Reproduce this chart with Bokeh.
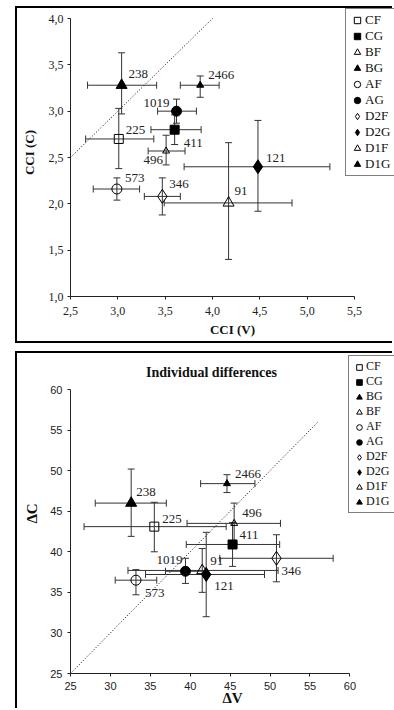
from bokeh.plotting import figure
from bokeh.models import (ColumnDataSource, Whisker, TeeHead, Range1d, FixedTicker,
                          CustomJSTickFormatter, Legend, LegendItem, Label)
from bokeh.layouts import column
from bokeh.embed import file_html
from bokeh.resources import INLINE
from bokeh.core.properties import value

# ---------------- data: top panel (CCI) ----------------
groups_top = ["CF", "CG", "BF", "BG", "AF", "AG", "D2F", "D2G", "D1F", "D1G"]
n_top = ["225", "411", "91", "238", "573", "1019", "346", "121", "496", "2466"]
cci_v = [3.01, 3.60, 4.17, 3.04, 2.99, 3.62, 3.47, 4.48, 3.51, 3.87]
cci_v_lo = [2.66, 3.35, 3.49, 2.68, 2.74, 3.42, 3.28, 3.70, 3.32, 3.66]
cci_v_hi = [3.38, 3.88, 4.84, 3.41, 3.23, 3.83, 3.66, 5.24, 3.71, 4.07]
cci_c = [2.70, 2.80, 2.01, 3.28, 2.16, 3.00, 2.08, 2.40, 2.57, 3.28]
cci_c_lo = [2.38, 2.64, 1.40, 2.97, 2.04, 2.87, 1.88, 1.92, 2.42, 3.15]
cci_c_hi = [3.03, 2.96, 2.66, 3.63, 2.28, 3.13, 2.28, 2.90, 2.74, 3.38]
ticks_cci_x = [2.5, 3.0, 3.5, 4.0, 4.5, 5.0, 5.5]
ticks_cci_y = [1.0, 1.5, 2.0, 2.5, 3.0, 3.5, 4.0]
diag_top = [2.5, 4.0]

# ---------------- data: bottom panel (individual differences) ----------------
groups_bot = ["CF", "CG", "BG", "BF", "AF", "AG", "D2F", "D2G", "D1F", "D1G"]
n_bot = ["225", "411", "238", "91", "573", "1019", "346", "121", "496", "2466"]
dv = [35.5, 45.3, 32.6, 41.5, 33.2, 39.4, 50.8, 42.0, 45.5, 44.6]
dv_lo = [26.7, 39.5, 28.1, 32.2, 30.6, 36.9, 43.7, 34.4, 39.6, 41.3]
dv_hi = [44.5, 51.2, 37.0, 51.0, 35.8, 41.9, 57.9, 49.3, 51.3, 48.1]
dc = [43.1, 40.9, 46.0, 37.7, 36.5, 37.6, 39.2, 37.2, 43.5, 48.4]
dc_lo = [40.0, 38.2, 41.9, 35.0, 34.7, 36.1, 36.3, 32.0, 41.0, 47.3]
dc_hi = [46.1, 43.6, 50.2, 40.4, 37.8, 39.2, 42.1, 42.4, 46.0, 49.5]
ticks_d = [25, 30, 35, 40, 45, 50, 55, 60]
diag_bot = [25, 56]

# ---------------- styles ----------------
MARK = {  # marker, filled, size
    "CF": ("square", False, 9), "CG": ("square", True, 9),
    "BF": ("triangle", False, 11), "BG": ("triangle", True, 11),
    "AF": ("circle", False, 10), "AG": ("circle", True, 10),
    "D2F": ("diamond", False, 14), "D2G": ("diamond", True, 14),
    "D1F": ("triangle", False, 7), "D1G": ("triangle", True, 7),
}
LAB_TOP = {"CF": (7, -9, "left"), "CG": (9, 13, "left"), "BF": (6, -12, "left"),
           "BG": (7, -11, "left"), "AF": (8, -11, "left"), "AG": (-7, -8, "right"),
           "D2F": (7, -12, "left"), "D2G": (8, -9, "left"), "D1F": (-3, 9, "right"),
           "D1G": (8, -10, "left")}
LAB_BOT = {"CF": (8, -8, "left"), "CG": (7, -9, "left"), "BG": (5, -11, "left"),
           "BF": (8, -9, "left"), "AF": (9, 13, "left"), "AG": (-3, -11, "right"),
           "D2F": (5, 13, "left"), "D2G": (8, 11, "left"), "D1F": (8, -10, "left"),
           "D1G": (8, -10, "left")}

SERIF = "Liberation Serif"
SANS = "Liberation Sans"
ERR = "#333333"


def panel(groups, ns, x, xlo, xhi, y, ylo, yhi, diag, labs, xb, yb, xt, yt,
          width, height, frame_left, frame_bottom, axis_right_px, axis_top_px,
          tick_font, tick_size, xlabel, ylabel, lab_size, legend_loc, leg_font, leg_h):
    # frame spans from frame_left to the canvas right and from canvas top to frame_bottom;
    # axes are bounded to the data extent
    fw = width - frame_left
    fh = height - frame_bottom
    ax_w = axis_right_px - frame_left
    ax_h = fh - axis_top_px
    x_end = xb[0] + fw * (xb[1] - xb[0]) / ax_w
    y_end = yb[0] + fh * (yb[1] - yb[0]) / ax_h
    p = figure(width=width, height=height, output_backend="svg", toolbar_location=None,
               x_range=Range1d(xb[0], x_end), y_range=Range1d(yb[0], y_end),
               min_border_left=frame_left, min_border_right=0,
               min_border_top=0, min_border_bottom=frame_bottom)
    p.background_fill_color = "white"
    p.border_fill_color = "white"
    p.outline_line_color = None
    p.grid.visible = False
    p.xaxis.bounds = xb
    p.yaxis.bounds = yb

    for ax, ticks in ((p.xaxis[0], xt), (p.yaxis[0], yt)):
        ax.ticker = FixedTicker(ticks=ticks)
        ax.minor_tick_line_color = None
        ax.major_tick_in = 0
        ax.major_tick_out = 3
        ax.axis_line_color = "#222222"
        ax.major_tick_line_color = "#222222"
        ax.major_label_text_font = tick_font
        ax.major_label_text_font_size = tick_size
        ax.major_label_text_color = "#222222"
        ax.axis_label_text_font = SERIF
        ax.axis_label_text_font_style = "bold"
        ax.axis_label_text_font_size = lab_size
        ax.axis_label_text_color = "#111111"
    p.xaxis.axis_label = xlabel
    p.yaxis.axis_label = ylabel

    p.line(diag, diag, line_color="black", line_width=1, line_dash="1 2")

    src = ColumnDataSource(dict(x=x, xlo=xlo, xhi=xhi, y=y, ylo=ylo, yhi=yhi))
    vw = Whisker(base="x", upper="yhi", lower="ylo", source=src, dimension="height",
                 line_color=ERR, line_width=1,
                 upper_head=TeeHead(size=7, line_color=ERR, line_width=1),
                 lower_head=TeeHead(size=7, line_color=ERR, line_width=1))
    hw = Whisker(base="y", upper="xhi", lower="xlo", source=src, dimension="width",
                 line_color=ERR, line_width=1,
                 upper_head=TeeHead(size=7, line_color=ERR, line_width=1),
                 lower_head=TeeHead(size=7, line_color=ERR, line_width=1))
    p.add_layout(vw)
    p.add_layout(hw)

    items = []
    for i, g in enumerate(groups):
        m, filled, s = MARK[g]
        r = p.scatter([x[i]], [y[i]], marker=m, size=s, line_color="black",
                      line_width=1, fill_color="black" if filled else None)
        items.append(LegendItem(label=g, renderers=[r]))

    tsrc = ColumnDataSource(dict(
        x=x, y=y, t=ns,
        dx=[labs[g][0] for g in groups], dy=[labs[g][1] for g in groups],
        al=[labs[g][2] for g in groups]))
    p.text("x", "y", text="t", x_offset="dx", y_offset="dy", text_align="al",
           text_baseline="middle", text_font=value(SERIF), text_font_size="13px",
           text_color="#222222", source=tsrc)

    leg = Legend(items=items, location=legend_loc, border_line_color="black",
                 border_line_width=1, background_fill_color="white",
                 background_fill_alpha=1.0, label_text_font=SERIF,
                 label_text_font_size=leg_font, label_text_color="#111111",
                 glyph_width=leg_h, glyph_height=leg_h, label_height=leg_h,
                 label_width=44, label_standoff=0, spacing=0, padding=3, margin=0)
    p.add_layout(leg)
    return p


p1 = panel(groups_top, n_top, cci_v, cci_v_lo, cci_v_hi, cci_c, cci_c_lo, cci_c_hi,
           diag_top, LAB_TOP, (2.5, 5.5), (1.0, 4.0), ticks_cci_x, ticks_cci_y,
           377, 333, 53, 45, 337, 10, SERIF, "12px", "CCI (V)", "CCI (C)", "13px",
           (275, 120), "13px", 16)
p1.xaxis.formatter = CustomJSTickFormatter(code="return tick.toFixed(1).replace('.', ',');")
p1.yaxis.formatter = CustomJSTickFormatter(code="return tick.toFixed(1).replace('.', ',');")
p1.xaxis.major_label_standoff = 7
p1.xaxis.axis_label_standoff = 4
p1.yaxis.major_label_standoff = 4
p1.yaxis.axis_label_standoff = 9
p1.margin = (8, 0, 0, 17)
p1.styles = {"box-shadow": "-2px -2px 0 0 #000, -2px 2px 0 0 #000"}

p2 = panel(groups_bot, n_bot, dv, dv_lo, dv_hi, dc, dc_lo, dc_hi,
           diag_bot, LAB_BOT, (25, 60), (25, 60), ticks_d, ticks_d,
           377, 357, 50, 37, 332, 36, SANS, "11px", "ΔV", "ΔC", "15px",
           (278, 160), "12px", 14)
p2.add_layout(Label(x=141, y=301, x_units="screen", y_units="screen",
                    text="Individual differences", text_align="center",
                    text_baseline="middle", text_font=SERIF, text_font_size="14px",
                    text_font_style="bold", text_color="#111111"))
p2.xaxis.major_label_standoff = 5
p2.xaxis.axis_label_standoff = -3
p2.yaxis.major_label_standoff = 5
p2.yaxis.axis_label_standoff = 7
p2.margin = (12, 0, 0, 17)
p2.styles = {"box-shadow": "-2px -2px 0 0 #000"}

layout = column(p1, p2, spacing=0)
open("out.html", "w").write(file_html(layout, INLINE))
